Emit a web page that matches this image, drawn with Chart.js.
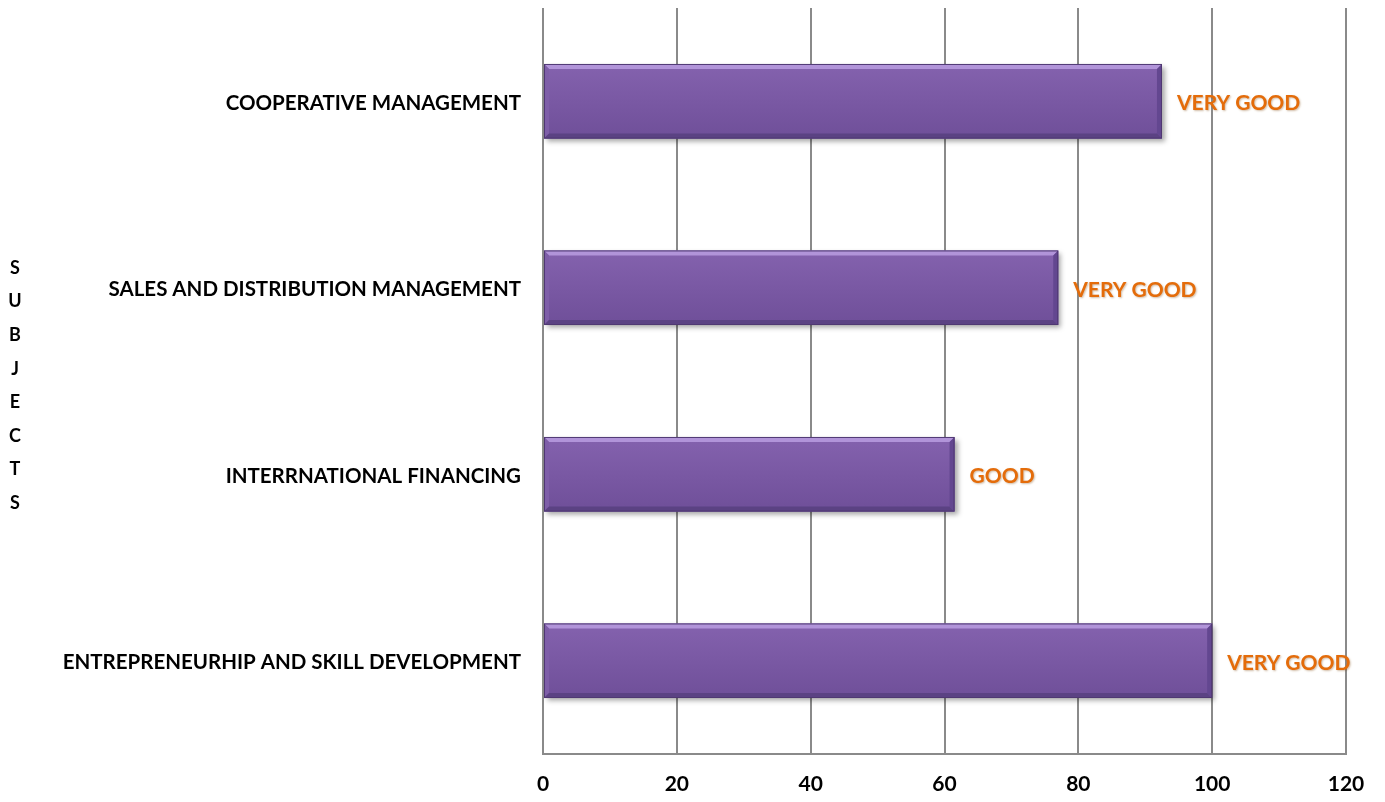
<!DOCTYPE html>
<html>
<head>
<meta charset="utf-8">
<script src="https://cdn.jsdelivr.net/npm/chart.js@4/dist/chart.umd.min.js"></script>
<style>
  html, body { margin: 0; padding: 0; background: #fff; }
  #wrap { width: 1385px; height: 802px; }
</style>
</head>
<body>
<div id="wrap"><canvas id="chart" width="1385" height="802"></canvas></div>
<script>
const subjects = [
    'COOPERATIVE MANAGEMENT',
    'SALES AND DISTRIBUTION MANAGEMENT',
    'INTERRNATIONAL FINANCING',
    'ENTREPRENEURHIP AND SKILL DEVELOPMENT'
];
const scores = [92.5, 77, 61.5, 100];
const grades = ['VERY GOOD', 'VERY GOOD', 'GOOD', 'VERY GOOD'];
const xTicks = [0, 20, 40, 60, 80, 100, 120];
const axisTitle = 'SUBJECTS';

const FONT = 'Lato, "Open Sans", sans-serif';

// drop shadow under the bars
const shadowPlugin = {
    id: 'barShadow',
    beforeDatasetDraw(chart) {
        const ctx = chart.ctx;
        ctx.save();
        ctx.shadowColor = 'rgba(0, 0, 0, 0.35)';
        ctx.shadowBlur = 5;
        ctx.shadowOffsetX = 3;
        ctx.shadowOffsetY = 3;
    },
    afterDatasetDraw(chart) {
        chart.ctx.restore();
    }
};

// bevel look + grade labels
const bevelPlugin = {
    id: 'bevel',
    afterDatasetsDraw(chart) {
        const ctx = chart.ctx;
        const meta = chart.getDatasetMeta(0);
        meta.data.forEach((bar, i) => {
            const x0 = bar.base;
            const x1 = bar.x;
            const top = bar.y - bar.height / 2;
            const bot = bar.y + bar.height / 2;
            const b = 5;

            ctx.save();
            // body gradient
            const g = ctx.createLinearGradient(0, top, 0, bot);
            g.addColorStop(0, '#8462ae');
            g.addColorStop(1, '#6f4f99');
            ctx.fillStyle = g;
            ctx.fillRect(x0 + 1, top + 1, x1 - x0 - 2, bot - top - 2);

            // top highlight
            ctx.fillStyle = '#b194d9';
            ctx.beginPath();
            ctx.moveTo(x0, top);
            ctx.lineTo(x1, top);
            ctx.lineTo(x1 - b, top + b);
            ctx.lineTo(x0 + b, top + b);
            ctx.closePath();
            ctx.fill();

            // left side
            ctx.fillStyle = '#7e5ea8';
            ctx.beginPath();
            ctx.moveTo(x0, top);
            ctx.lineTo(x0 + b, top + b);
            ctx.lineTo(x0 + b, bot - b);
            ctx.lineTo(x0, bot);
            ctx.closePath();
            ctx.fill();

            // bottom shade
            ctx.fillStyle = '#5b4283';
            ctx.beginPath();
            ctx.moveTo(x0, bot);
            ctx.lineTo(x0 + b, bot - b);
            ctx.lineTo(x1 - b, bot - b);
            ctx.lineTo(x1, bot);
            ctx.closePath();
            ctx.fill();

            // right side
            ctx.fillStyle = '#634790';
            ctx.beginPath();
            ctx.moveTo(x1, top);
            ctx.lineTo(x1, bot);
            ctx.lineTo(x1 - b, bot - b);
            ctx.lineTo(x1 - b, top + b);
            ctx.closePath();
            ctx.fill();

            ctx.strokeStyle = '#4f3872';
            ctx.lineWidth = 1;
            ctx.strokeRect(x0 + 0.5, top + 0.5, x1 - x0 - 1, bot - top - 1);

            // grade label
            ctx.font = 'bold 21px ' + FONT;
            ctx.textAlign = 'left';
            ctx.textBaseline = 'middle';
            ctx.shadowColor = 'rgba(120, 60, 0, 0.35)';
            ctx.shadowBlur = 2;
            ctx.shadowOffsetX = 1;
            ctx.shadowOffsetY = 1;
            ctx.fillStyle = '#e46c0a';
            ctx.fillText(grades[i], x1 + 15, bar.y + 2);
            ctx.restore();
        });
    }
};

// stacked vertical axis title
const titlePlugin = {
    id: 'stackTitle',
    afterDraw(chart) {
        const ctx = chart.ctx;
        ctx.save();
        ctx.font = 'bold 18px ' + FONT;
        ctx.fillStyle = '#000';
        ctx.textAlign = 'center';
        ctx.textBaseline = 'middle';
        axisTitle.split('').forEach((ch, i) => {
            ctx.fillText(ch, 15, 268 + i * 33.6);
        });
        ctx.restore();
    }
};

new Chart(document.getElementById('chart'), {
    type: 'bar',
    data: {
        labels: subjects,
        datasets: [{
            data: scores,
            backgroundColor: '#7b59a5',
            borderWidth: 0,
            barPercentage: 0.8,
            categoryPercentage: 0.5
        }]
    },
    options: {
        indexAxis: 'y',
        responsive: false,
        animation: false,
        layout: { padding: { top: 8, right: 39, left: 0, bottom: 0 } },
        plugins: {
            legend: { display: false },
            tooltip: { enabled: false }
        },
        scales: {
            x: {
                min: 0,
                max: 120,
                afterBuildTicks(scale) {
                    scale.ticks = xTicks.map(v => ({ value: v }));
                },
                afterFit(scale) {
                    scale.height = 48;
                    scale.paddingLeft = 0;
                    scale.paddingRight = 0;
                },
                grid: {
                    color: '#8a8a8a',
                    lineWidth: 2,
                    drawTicks: false
                },
                border: { display: true, color: '#8a8a8a', width: 2 },
                ticks: {
                    padding: 18,
                    color: '#000',
                    font: { family: FONT, size: 21, weight: 'bold' }
                }
            },
            y: {
                afterFit(scale) {
                    scale.width = 543;
                    scale.paddingTop = 0;
                    scale.paddingBottom = 0;
                },
                grid: { display: false, drawTicks: false },
                border: { display: false },
                ticks: {
                    padding: 22,
                    labelOffset: 2,
                    color: '#000',
                    font: { family: FONT, size: 20.5, weight: 'bold' }
                }
            }
        }
    },
    plugins: [shadowPlugin, bevelPlugin, titlePlugin]
});
</script>
</body>
</html>
